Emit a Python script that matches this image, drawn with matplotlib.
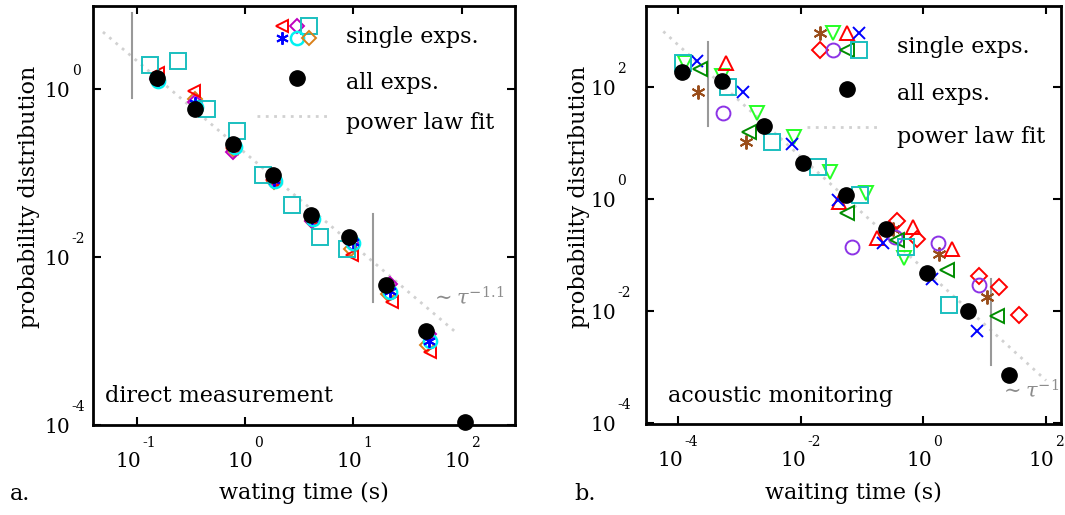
import numpy as np
import matplotlib
matplotlib.use("Agg")
import matplotlib.pyplot as plt
from matplotlib.ticker import FixedLocator, NullLocator, NullFormatter
from matplotlib.transforms import offset_copy

plt.rcParams['font.family'] = ['DejaVu Serif']
plt.rcParams['mathtext.fontset'] = 'dejavuserif'

# ---------------- panel a: direct measurement ----------------
a_all_x = [0.153, 0.345, 0.769, 1.80, 4.05, 9.18, 20.0, 46.9, 107.0]
a_all_y = [1.377, 0.582, 0.226, 0.0964, 0.0321, 0.01734, 4.68e-3, 1.33e-3, 1.1e-4]

a_tri_x = [0.157, 0.338, 0.76, 1.78, 4.07, 9.66, 22.6, 51.1]
a_tri_y = [1.57, 0.955, 0.20, 0.083, 0.029, 0.01077, 2.9e-3, 7.47e-4]
a_dmag_x = [0.155, 0.345, 0.78, 1.85, 4.1, 9.6, 21.5, 50.0]
a_dmag_y = [1.32, 0.70, 0.18, 0.085, 0.027, 0.0148, 4.8e-3, 1.2e-3]
a_sq_x = [0.133, 0.242, 0.442, 0.837, 1.476, 2.73, 4.93, 8.69]
a_sq_y = [1.95, 2.18, 0.577, 0.318, 0.0965, 0.0423, 0.01734, 0.0126]
a_ast_x = [0.157, 0.345, 0.78, 1.86, 4.15, 9.8, 21.5, 50.0]
a_ast_y = [1.30, 0.68, 0.21, 0.083, 0.029, 0.0152, 3.95e-3, 1.0e-3]
a_circ_x = [0.156, 0.35, 0.80, 1.88, 4.2, 9.9, 21.9, 50.5]
a_circ_y = [1.25, 0.62, 0.205, 0.080, 0.0285, 0.0147, 3.85e-3, 1.0e-3]
a_dor_x = [0.156, 0.345, 0.79, 1.85, 4.1, 9.4, 20.8, 48.0]
a_dor_y = [1.28, 0.76, 0.19, 0.078, 0.027, 0.0125, 3.6e-3, 9.0e-4]

a_fit_x = [10**-1.311, 10**1.967]
a_fit_y = [10**0.685, 10**-2.92]
a_vline1_x, a_vline1_y = 10**-1.041, [10**0.908, 10**-0.10]
a_vline2_x, a_vline2_y = 10**1.179, [10**-1.49, 10**-2.53]

# ---------------- panel b: acoustic monitoring ----------------
b_all_x = [1.135e-4, 5.22e-4, 2.50e-3, 0.0109, 0.0538, 0.244, 1.153, 5.26, 25.1]
b_all_y = [190, 130, 20.5, 4.35, 1.17, 0.289, 0.0475, 9.9e-3, 7.2e-4]

b_ast_x = [2.12e-4, 1.27e-3, 0.321, 1.81, 10.7]
b_ast_y = [83.4, 10.6, 0.297, 0.106, 0.0177]
b_vtri_x = [1.29e-4, 5.1e-4, 1.95e-3, 7.7e-3, 0.0299, 0.114, 0.481]
b_vtri_y = [269, 159, 34.2, 13.0, 3.07, 1.26, 0.0898]
b_utri_x = [5.93e-4, 0.0423, 0.176, 0.682, 2.88]
b_utri_y = [269, 0.891, 0.205, 0.318, 0.130]
b_x_x = [2.04e-4, 1.15e-3, 7.08e-3, 0.0407, 0.221, 1.36, 7.55]
b_x_y = [296, 83.4, 9.64, 0.955, 0.164, 0.0367, 4.35e-3]
b_dia_x = [0.374, 0.793, 8.04, 17.2, 36.6]
b_dia_y = [0.402, 0.191, 0.0415, 0.0267, 8.3e-3]
b_circ_x = [5.42e-4, 0.0674, 0.343, 1.71, 8.13]
b_circ_y = [34.2, 0.139, 0.210, 0.167, 0.0295]
b_ltri_x = [2.26e-4, 1.42e-3, 0.0571, 0.366, 2.44, 16.0]
b_ltri_y = [210, 15.6, 0.566, 0.189, 0.0532, 7.96e-3]
b_sq_x = [1.21e-4, 6.4e-4, 3.34e-3, 0.0188, 0.092, 0.513, 2.64]
b_sq_y = [269, 100, 10.6, 3.78, 1.17, 0.139, 0.01256]

b_fit_x = [10**-4.245, 10**2.0]
b_fit_y = [10**3.0, 10**-3.245]
b_vline1_x, b_vline1_y = 10**-3.52, [10**2.817, 10**1.312]
b_vline2_x, b_vline2_y = 10**1.101, [10**-1.423, 10**-2.964]

a_xticks = [1e-1, 1e0, 1e1, 1e2]
a_yticks = [1e-4, 1e-2, 1e0]
b_xticks = [1e-4, 1e-2, 1e0, 1e2]
b_yticks = [1e-4, 1e-2, 1e0, 1e2]

# ---------------- styling ----------------
RED = (1.0, 0.0, 0.0)
MAG = (0.75, 0.0, 0.75)
CYS = (0.1, 0.75, 0.75)
BLU = (0.0, 0.0, 1.0)
CYC = (0.0, 0.95, 0.95)
ORA = (0.85, 0.5, 0.1)
BRN = (0.6, 0.3, 0.1)
LIM = (0.15, 1.0, 0.15)
GRN = (0.0, 0.55, 0.0)
PUR = (0.55, 0.2, 0.9)
AST = (6, 2, 0)
FS = 16      # text
TFS = 14.5   # tick "10"
EFS = 10     # tick exponent
FIT_C = '0.82'
VL_C = '0.6'
DOT_MS = 11

fig = plt.figure(figsize=(10.65, 5.15), dpi=100)
axA = fig.add_axes([0.0870, 0.1748, 0.3966, 0.8136])
axB = fig.add_axes([0.6066, 0.1761, 0.3897, 0.8128])


def exp_str(v):
    return '%d' % int(round(np.log10(v)))


def style(ax, xlim, ylim, xt, yt, ygap):
    ax.set_xscale('log')
    ax.set_yscale('log')
    ax.set_xlim(*xlim)
    ax.set_ylim(*ylim)
    ax.xaxis.set_major_locator(FixedLocator(xt))
    ax.yaxis.set_major_locator(FixedLocator(yt))
    ax.xaxis.set_minor_locator(NullLocator())
    ax.yaxis.set_minor_locator(NullLocator())
    ax.xaxis.set_major_formatter(NullFormatter())
    ax.yaxis.set_major_formatter(NullFormatter())
    ax.tick_params(which='major', direction='in', length=6, width=1.5,
                   top=True, right=True, labelbottom=False, labelleft=False)
    for s in ax.spines.values():
        s.set_linewidth(2)
    # tick labels: "10" with a raised exponent
    trx = ax.get_xaxis_transform()
    for t in xt:
        e = exp_str(t)
        wexp = 7 * len(e)
        c = -(wexp + 2) / 2.0
        ax.text(t, 0, '10', fontsize=TFS, ha='center', va='baseline',
                transform=offset_copy(trx, fig=fig, x=c, y=-42, units='dots'))
        ax.text(t, 0, e, fontsize=EFS, ha='left', va='baseline',
                transform=offset_copy(trx, fig=fig, x=c + 14, y=-22, units='dots'))
    try_ = ax.get_yaxis_transform()
    for t in yt:
        e = exp_str(t)
        ax.text(0, t, '10', fontsize=TFS, ha='right', va='baseline',
                transform=offset_copy(try_, fig=fig, x=-ygap, y=-8, units='dots'))
        ax.text(0, t, e, fontsize=EFS, ha='left', va='baseline',
                transform=offset_copy(try_, fig=fig, x=-ygap + 1, y=14, units='dots'))


def op(ax, x, y, m, c, ms=10, mew=1.4, **kw):
    ax.plot(x, y, linestyle='none', marker=m, markersize=ms,
            markerfacecolor='none', markeredgecolor=c, markeredgewidth=mew, **kw)


# ---- panel a ----
style(axA, (10**-1.406, 10**2.49), (1e-4, 10**0.995), a_xticks, a_yticks, ygap=22)
axA.plot(a_fit_x, a_fit_y, color=FIT_C, lw=2, ls=(0, (1, 2)))
axA.plot([a_vline1_x] * 2, a_vline1_y, color=VL_C, lw=1.5)
axA.plot([a_vline2_x] * 2, a_vline2_y, color=VL_C, lw=1.5)
op(axA, a_dor_x, a_dor_y, 'D', ORA, ms=7)
op(axA, a_dmag_x, a_dmag_y, 'D', MAG, ms=7)
op(axA, a_tri_x, a_tri_y, '<', RED, ms=9)
op(axA, a_circ_x, a_circ_y, 'o', CYC, ms=9.5, mew=1.8)
op(axA, a_ast_x, a_ast_y, AST, BLU, ms=9)
op(axA, a_sq_x, a_sq_y, 's', CYS, ms=11)
axA.plot(a_all_x, a_all_y, 'o', color='black', markersize=DOT_MS, clip_on=False, zorder=5)

tA = axA.transAxes
op(axA, [0.4475], [0.953], '<', RED, ms=9, transform=tA)
op(axA, [0.483], [0.953], 'D', MAG, ms=7, transform=tA)
op(axA, [0.513], [0.953], 's', CYS, ms=11, transform=tA)
op(axA, [0.4475], [0.924], AST, BLU, ms=9, transform=tA)
op(axA, [0.483], [0.924], 'o', CYC, ms=9.5, mew=1.8, transform=tA)
op(axA, [0.513], [0.924], 'D', ORA, ms=7, transform=tA)
axA.plot([0.483], [0.829], 'o', color='black', markersize=DOT_MS, transform=tA)
axA.plot([0.388, 0.562], [0.738, 0.738], color=FIT_C, lw=2, ls=(0, (1, 2)), transform=tA)
# baselines: 43, 89, 129 px from figure top; axes top at 6 px, height 419 px
axA.text(0.600, 1 - (43 - 6) / 419, 'single exps.', transform=tA, fontsize=FS, va='baseline', ha='left')
axA.text(0.600, 1 - (89 - 6) / 419, 'all exps.', transform=tA, fontsize=FS, va='baseline', ha='left')
axA.text(0.600, 1 - (129 - 6) / 419, 'power law fit', transform=tA, fontsize=FS, va='baseline', ha='left')
axA.text(0.029, 1 - (402 - 6) / 419, 'direct measurement', transform=tA, fontsize=FS,
         va='baseline', ha='left')
axA.text(0.800, 1 - (304 - 6) / 419, r'$\sim\tau^{-1.1}$', transform=tA, fontsize=15,
         va='baseline', ha='left', color='0.55')
axA.set_xlabel('wating time (s)', fontsize=FS, va='baseline')
axA.xaxis.set_label_coords(0.5, -(499 - 425) / 419)
axA.set_ylabel('probability distribution', fontsize=FS, va='center', ha='center')
axA.yaxis.set_label_coords((29 - 92.7) / 422.3, 1 - (196.5 - 6) / 419)

# ---- panel b ----
style(axB, (10**-4.527, 10**2.245), (10**-4.03, 10**3.46), b_xticks, b_yticks, ygap=30)
axB.plot(b_fit_x, b_fit_y, color=FIT_C, lw=2, ls=(0, (1, 2)))
axB.plot([b_vline1_x] * 2, b_vline1_y, color=VL_C, lw=1.5)
axB.plot([b_vline2_x] * 2, b_vline2_y, color=VL_C, lw=1.5)
op(axB, b_ast_x, b_ast_y, AST, BRN, ms=10)
op(axB, b_vtri_x, b_vtri_y, 'v', LIM, ms=10)
op(axB, b_utri_x, b_utri_y, '^', RED, ms=10)
op(axB, b_x_x, b_x_y, 'x', BLU, ms=8)
op(axB, b_dia_x, b_dia_y, 'D', RED, ms=8)
op(axB, b_circ_x, b_circ_y, 'o', PUR, ms=10)
op(axB, b_ltri_x, b_ltri_y, '<', GRN, ms=10)
op(axB, b_sq_x, b_sq_y, 's', CYS, ms=11)
axB.plot(b_all_x, b_all_y, 'o', color='black', markersize=DOT_MS, zorder=5)

tB = axB.transAxes
op(axB, [0.419], [0.934], AST, BRN, ms=10, transform=tB)
op(axB, [0.451], [0.934], 'v', LIM, ms=10, transform=tB)
op(axB, [0.485], [0.934], '^', RED, ms=10, transform=tB)
op(axB, [0.514], [0.934], 'x', BLU, ms=8, transform=tB)
op(axB, [0.419], [0.894], 'D', RED, ms=8, transform=tB)
op(axB, [0.451], [0.894], 'o', PUR, ms=10, transform=tB)
op(axB, [0.485], [0.894], '<', GRN, ms=10, transform=tB)
op(axB, [0.514], [0.894], 's', CYS, ms=11, transform=tB)
axB.plot([0.485], [0.800], 'o', color='black', markersize=DOT_MS, transform=tB)
axB.plot([0.387, 0.568], [0.711, 0.711], color=FIT_C, lw=2, ls=(0, (1, 2)), transform=tB)
axB.text(0.604, 1 - (53 - 5.7) / 418.6, 'single exps.', transform=tB, fontsize=FS, va='baseline', ha='left')
axB.text(0.604, 1 - (100 - 5.7) / 418.6, 'all exps.', transform=tB, fontsize=FS, va='baseline', ha='left')
axB.text(0.604, 1 - (142.5 - 5.7) / 418.6, 'power law fit', transform=tB, fontsize=FS, va='baseline', ha='left')
axB.text(0.053, 1 - (402 - 5.7) / 418.6, 'acoustic monitoring', transform=tB, fontsize=FS,
         va='baseline', ha='left')
axB.text(0.853, 1 - (397 - 5.7) / 418.6, r'$\sim\tau^{-1}$', transform=tB, fontsize=15,
         va='baseline', ha='left', color='0.55', clip_on=False)
axB.set_xlabel('waiting time (s)', fontsize=FS, va='baseline')
axB.xaxis.set_label_coords(0.5, -(499 - 424.3) / 418.6)
axB.set_ylabel('probability distribution', fontsize=FS, va='center', ha='center')
axB.yaxis.set_label_coords((579 - 646) / 415, 1 - (196.5 - 5.7) / 418.6)

fig.text(10 / 1065, 1 - 500 / 515, 'a.', fontsize=FS, va='baseline', ha='left')
fig.text(574 / 1065, 1 - 500 / 515, 'b.', fontsize=FS, va='baseline', ha='left')

fig.savefig('out.png', dpi=100)
